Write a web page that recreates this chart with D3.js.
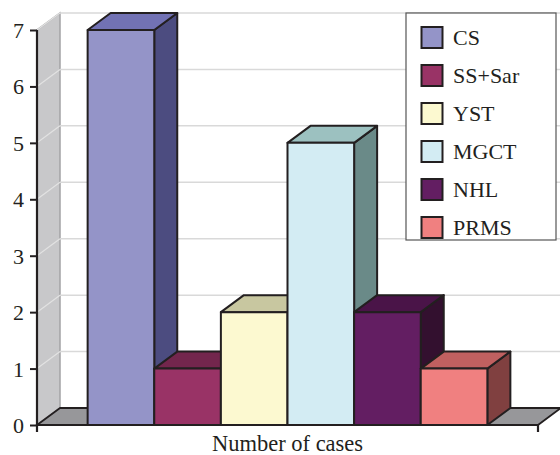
<!DOCTYPE html>
<html><head><meta charset="utf-8">
<script src="https://cdn.jsdelivr.net/npm/d3@7"></script>
<style>html,body{margin:0;padding:0;background:#fff;}svg{display:block;font-family:"Liberation Serif","Times New Roman",serif;}</style>
</head><body><svg id="c" width="560" height="455"></svg>
<script>
const categories = ["Number of cases"];
const seriesNames = ["CS","SS+Sar","YST","MGCT","NHL","PRMS"];
const seriesValues = [7,1,2,5,2,1];
const yTicks = [0,1,2,3,4,5,6,7];
const frontColors = ["#9494C8","#993366","#FCF9D0","#D3ECF3","#631E62","#F08080"];
const topColors   = ["#7272B4","#73264D","#C8C7A0","#9CC1C0","#4A1448","#C06060"];
const sideColors  = ["#4C4C80","#5A1B3C","#A09F78","#6A8A88","#33102F","#804040"];

const svg = d3.select("#c");
const dx = 23, dy = -17;
const x0 = 37, x1 = 538;
const y = d3.scaleLinear().domain([0,7]).range([425,30]);
const xCat = d3.scaleBand().domain(categories).range([x0,x1]);
const xSer = d3.scaleBand().domain(seriesNames).range([0,xCat.bandwidth()]).paddingInner(0).paddingOuter(0.76);
const ink = "#231F20";
const line = d3.line();

// left side wall
svg.append("path").attr("d", line([[x0,y(0)],[x0,y(7)],[x0+dx,y(7)+dy],[x0+dx,y(0)+dy]]) + "Z")
  .attr("fill","#C8C8CA").attr("stroke","#A3A3A5").attr("stroke-width",1.5);
// gridlines (back wall + side wall)
const g = svg.append("g");
yTicks.forEach(t => {
  if (t === 0) return;
  g.append("line").attr("x1",x0+dx).attr("x2",562).attr("y1",y(t)+dy).attr("y2",y(t)+dy)
    .attr("stroke","#D9D9D9").attr("stroke-width",1.5);
  g.append("line").attr("x1",x0).attr("x2",x0+dx).attr("y1",y(t)).attr("y2",y(t)+dy)
    .attr("stroke","#E2E2E2").attr("stroke-width",1.2);
});
// floor
svg.append("path").attr("d", line([[x0,y(0)],[x1,y(0)],[x1+dx,y(0)+dy],[x0+dx,y(0)+dy]]) + "Z")
  .attr("fill","#97979A").attr("stroke",ink).attr("stroke-width",1.8).attr("stroke-linejoin","round");

// bars
seriesValues.forEach((v,i) => {
  const name = seriesNames[i];
  const bx = xCat(categories[0]) + xSer(name), bw = xSer.bandwidth();
  const yt = y(v), yb = y(0);
  const bg = svg.append("g").attr("stroke",ink).attr("stroke-width",2).attr("stroke-linejoin","round");
  bg.append("path").attr("d", line([[bx+bw,yb],[bx+bw,yt],[bx+bw+dx,yt+dy],[bx+bw+dx,yb+dy]])+"Z").attr("fill",sideColors[i]);
  bg.append("path").attr("d", line([[bx,yt],[bx+bw,yt],[bx+bw+dx,yt+dy],[bx+dx,yt+dy]])+"Z").attr("fill",topColors[i]);
  bg.append("rect").attr("x",bx).attr("y",yt).attr("width",bw).attr("height",yb-yt).attr("fill",frontColors[i]);
});

// y axis
const yAxis = d3.axisLeft(y).tickValues(yTicks).tickFormat(d3.format("d")).tickSize(7).tickPadding(6);
const ya = svg.append("g").attr("transform",`translate(${x0},0)`).call(yAxis);
ya.select(".domain").attr("d",`M-0,${y(0)}V${y(7)}`).attr("stroke",ink).attr("stroke-width",2.2);
ya.selectAll(".tick line").attr("stroke",ink).attr("stroke-width",2);
ya.selectAll(".tick text").attr("font-size",22).attr("fill",ink).attr("font-family","Liberation Serif").attr("dy","0.34em");

// x axis
const xAxis = d3.axisBottom(xCat).tickSize(0).tickPadding(10);
const xa = svg.append("g").attr("transform",`translate(0,${y(0)})`).call(xAxis);
xa.select(".domain").attr("d",`M${x0},7V0H${x1}V7`).attr("stroke",ink).attr("stroke-width",2.2).attr("fill","none");
xa.selectAll(".tick text").attr("font-size",22.5).attr("fill",ink).attr("font-family","Liberation Serif");

// legend
const lg = svg.append("g").attr("transform","translate(406,13)");
lg.append("rect").attr("x",0).attr("y",0).attr("width",150).attr("height",227).attr("fill","#fff").attr("stroke","#555").attr("stroke-width",1.2);
seriesNames.forEach((n,i) => {
  const cy = 24.5 + i*38;
  lg.append("rect").attr("x",15.5).attr("y",cy-10.5).attr("width",21).attr("height",21)
    .attr("fill",frontColors[i]).attr("stroke",ink).attr("stroke-width",2);
  lg.append("text").attr("x",47).attr("y",cy).attr("dy","0.35em").attr("font-size",22).attr("fill",ink).text(n);
});
</script></body></html>
